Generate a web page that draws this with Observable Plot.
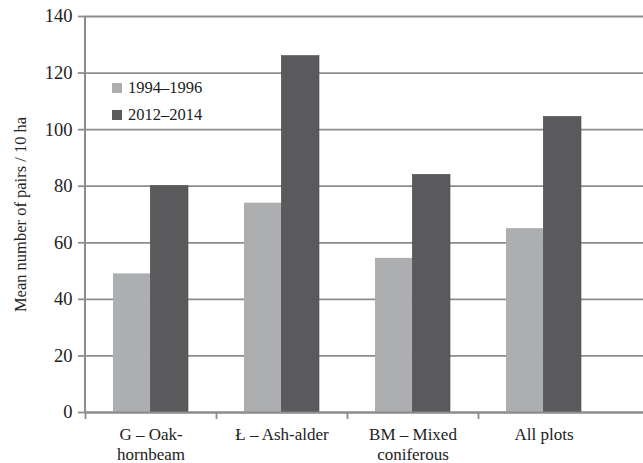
<!DOCTYPE html>
<html>
<head>
<meta charset="utf-8">
<script src="https://cdn.jsdelivr.net/npm/d3@7"></script>
<script src="https://cdn.jsdelivr.net/npm/@observablehq/plot@0.6"></script>
<style>
  html, body { margin: 0; padding: 0; background: #fff; }
  #wrap { position: relative; width: 643px; height: 463px; font-family: "Liberation Serif", "Times New Roman", serif; }
  #wrap svg { display: block; }
  #wrap svg text { font-family: "Liberation Serif", "Times New Roman", serif; }
  .legend { position: absolute; left: 112px; top: 74px; font-size: 16.5px; color: #222; line-height: 27px; }
  .legend .row { display: flex; align-items: center; }
  .legend .sw { width: 10px; height: 10px; margin-right: 6px; }
</style>
</head>
<body>
<div id="wrap"></div>
<script>
const categories = ["G – Oak-\nhornbeam", "Ł – Ash-alder", "BM – Mixed\nconiferous", "All plots"];
const series = ["1994–1996", "2012–2014"];
const values1994 = [49, 74, 54.5, 65];
const values2012 = [80, 126, 84, 104.5];
const yTicks = [0, 20, 40, 60, 80, 100, 120, 140];
const yTitle = "Mean number of pairs / 10 ha";
const colors = ["#adaeb0", "#5a5a5c"];

const rows = categories.flatMap((c, i) => [
  {category: c, series: series[0], value: values1994[i]},
  {category: c, series: series[1], value: values2012[i]}
]);

const W = 643, H = 463;
const left = 85, bandRight = 609;
const pIn = 0.43, pOut = 0.215;
const step = (bandRight - left) / (categories.length - pIn + 2 * pOut);
const bw = step * (1 - pIn);
const gridColor = "#8c8c8e";

const chart = Plot.plot({
  width: W, height: H,
  marginLeft: left, marginRight: 0, marginTop: 16, marginBottom: 51,
  style: {fontSize: "16.5px", color: "#222", background: "#fff"},
  x: {domain: categories, range: [left, bandRight], paddingInner: pIn, paddingOuter: pOut, axis: null},
  y: {domain: [0, 140], axis: null},
  color: {domain: series, range: colors},
  marks: [
    Plot.ruleY(yTicks, {stroke: gridColor, strokeWidth: 1.8}),
    Plot.barY(rows.filter(d => d.series === series[0]), {x: "category", y: "value", fill: "series", insetRight: bw / 2}),
    Plot.barY(rows.filter(d => d.series === series[1]), {x: "category", y: "value", fill: "series", insetLeft: bw / 2, stroke: "#4a4a4c", strokeWidth: 0.6}),
    Plot.ruleY([0], {stroke: gridColor, strokeWidth: 2}),
    Plot.axisY({ticks: yTicks, tickSize: 7, tickPadding: 6, stroke: gridColor, strokeWidth: 1.8, fontSize: 18.5, label: null}),
    Plot.ruleX(categories, {x: d => d, dx: -step / 2, y1: () => 0, y2: () => 0, insetBottom: -7, stroke: gridColor, strokeWidth: 1.8}),
    Plot.axisX({tickSize: 0, tickPadding: 13, fontSize: 17, label: null, lineHeight: 1.18}),
    Plot.text([yTitle], {text: d => d, frameAnchor: "left", textAnchor: "middle", rotate: -90, dx: -65, fontSize: 16.5, fill: "#222"})
  ]
});

const wrap = document.getElementById("wrap");
wrap.appendChild(chart);

// vertical axis line (frame's left edge)
const ns = "http://www.w3.org/2000/svg";
const axisLine = document.createElementNS(ns, "line");
axisLine.setAttribute("x1", left); axisLine.setAttribute("x2", left);
axisLine.setAttribute("y1", 16); axisLine.setAttribute("y2", H - 51);
axisLine.setAttribute("stroke", gridColor); axisLine.setAttribute("stroke-width", 2);
chart.appendChild(axisLine);

// legend
const legend = document.createElement("div");
legend.className = "legend";
series.forEach((s, i) => {
  const row = document.createElement("div");
  row.className = "row";
  const sw = document.createElement("span");
  sw.className = "sw";
  sw.style.background = colors[i];
  const t = document.createElement("span");
  t.textContent = s;
  row.appendChild(sw); row.appendChild(t);
  legend.appendChild(row);
});
wrap.appendChild(legend);
</script>
</body>
</html>
